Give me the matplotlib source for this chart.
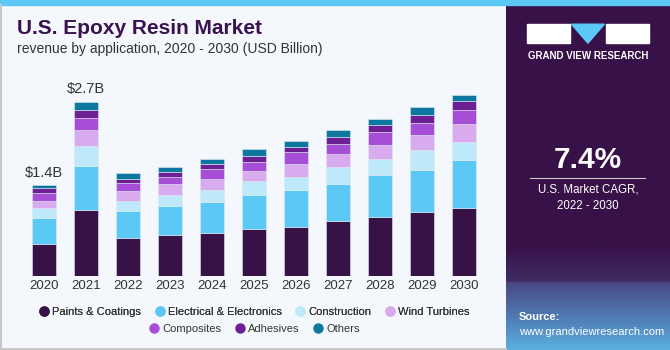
import numpy as np
import matplotlib.pyplot as plt
from matplotlib.patches import Rectangle, Polygon
from matplotlib.lines import Line2D
from matplotlib.colors import LinearSegmentedColormap

plt.rcParams["font.family"] = ["Liberation Sans", "DejaVu Sans"]

years = ["2020", "2021", "2022", "2023", "2024", "2025", "2026", "2027", "2028", "2029", "2030"]
segments = ["Paints & Coatings", "Electrical & Electronics", "Construction", "Wind Turbines",
            "Composites", "Adhesives", "Others"]

paints = [0.50, 1.02, 0.59, 0.63, 0.67, 0.73, 0.76, 0.85, 0.91, 0.98, 1.05]
electrical = [0.40, 0.67, 0.41, 0.44, 0.47, 0.51, 0.57, 0.56, 0.64, 0.65, 0.73]
construction = [0.14, 0.31, 0.16, 0.17, 0.19, 0.22, 0.20, 0.27, 0.25, 0.31, 0.28]
wind = [0.12, 0.24, 0.15, 0.17, 0.17, 0.16, 0.20, 0.19, 0.22, 0.23, 0.28]
composites = [0.12, 0.19, 0.12, 0.12, 0.14, 0.14, 0.17, 0.16, 0.19, 0.19, 0.21]
adhesives = [0.07, 0.12, 0.07, 0.07, 0.09, 0.09, 0.08, 0.11, 0.11, 0.11, 0.14]
others = [0.05, 0.13, 0.08, 0.08, 0.07, 0.10, 0.10, 0.10, 0.10, 0.13, 0.10]

colors = ["#371246", "#5BC8F5", "#BDE9FA", "#D8AAEE", "#A64FD6", "#6D2096", "#0E77A0"]
callouts = {0: "$1.4B", 1: "$2.7B"}

series = [paints, electrical, construction, wind, composites, adhesives, others]

fig = plt.figure(figsize=(6.7, 3.5), dpi=100)
fig.patch.set_facecolor("#F4F8FC")

# bars
ax = fig.add_axes([0.0276, 0.211, 0.702, 0.558])
ax.set_facecolor("none")
x = np.arange(len(years))
bottom = np.zeros(len(years))
for vals, col in zip(series, colors):
    ax.bar(x, vals, width=0.57, bottom=bottom, color=col, edgecolor="#dfe8f0", linewidth=0.4)
    bottom += np.array(vals)
for i, txt in callouts.items():
    ax.text(x[i], bottom[i] + 0.08, txt, ha="center", va="bottom", fontsize=10.5, color="#333333")
ax.set_xlim(-0.6, len(years) - 0.4)
ax.set_ylim(0, 3.0)
ax.set_xticks(x)
ax.set_xticklabels(years, fontsize=9.5, color="#333333")
ax.tick_params(axis="x", length=0, pad=3)
ax.set_yticks([])
for s in ax.spines.values():
    s.set_visible(False)

# title
fig.text(0.025, 0.92, "U.S. Epoxy Resin Market", fontsize=15, fontweight="bold",
         color="#3A1250", va="center")
fig.text(0.025, 0.86, "revenue by application, 2020 - 2030 (USD Billion)", fontsize=10,
         color="#333333", va="center")

# legend, two centred rows
handles = [Line2D([], [], marker="o", ls="", color=c, markersize=6.5) for c in colors]
leg_kw = dict(loc="center", frameon=False, fontsize=8, handletextpad=0.1, columnspacing=1.0,
              labelcolor="#333333", handlelength=1.3)
leg1 = fig.legend(handles[:4], segments[:4], bbox_to_anchor=(0.378, 0.109), ncol=4, **leg_kw)
fig.legend(handles[4:], segments[4:], bbox_to_anchor=(0.378, 0.061), ncol=3, **leg_kw)
fig.add_artist(leg1)

# right panel
pan = fig.add_axes([0.755, 0.0, 0.245, 0.985])
pan.set_xlim(0, 1)
pan.set_ylim(0, 1)
pan.axis("off")
grad = np.linspace(0, 1, 200)[:, None]
cmap = LinearSegmentedColormap.from_list(
    "p", [(0.0, "#5BAEDF"), (0.1, "#4F77B0"), (0.19, "#4A4A85"), (0.2, "#3E2C62"),
          (0.3, "#371148"), (1.0, "#371148")])
pan.imshow(grad, aspect="auto", cmap=cmap, extent=[0, 1, 0, 1], origin="lower")
# logo
pan.add_patch(Rectangle((0.13, 0.89), 0.26, 0.055, color="white"))
pan.add_patch(Polygon([[0.40, 0.945], [0.60, 0.945], [0.50, 0.89]], color="#5BC8F5"))
pan.add_patch(Rectangle((0.61, 0.89), 0.26, 0.055, color="white"))
pan.text(0.5, 0.852, "GRAND VIEW RESEARCH", ha="center", va="center", fontsize=7,
         color="white", fontweight="bold")
pan.text(0.5, 0.552, "7.4%", ha="center", va="center", fontsize=21.5, color="white",
         fontweight="bold")
pan.plot([0.15, 0.85], [0.499, 0.499], color="#cccccc", lw=0.8)
pan.text(0.5, 0.465, "U.S. Market CAGR,", ha="center", va="center", fontsize=8.3, color="white")
pan.text(0.5, 0.417, "2022 - 2030", ha="center", va="center", fontsize=8.3, color="white")
pan.text(0.08, 0.095, "Source:", ha="left", va="center", fontsize=8, color="white",
         fontweight="bold")
pan.text(0.08, 0.053, "www.grandviewresearch.com", ha="left", va="center", fontsize=8,
         color="white")

# top stripe and border
fig.add_artist(Rectangle((0, 0.985), 1, 0.015, transform=fig.transFigure, color="#5BC8F5"))
fig.add_artist(Line2D([0.001, 0.001], [0, 0.985], transform=fig.transFigure, color="#c8c8c8", lw=1.5))
fig.add_artist(Line2D([0, 0.755], [0.002, 0.002], transform=fig.transFigure, color="#c8c8c8", lw=1.5))

fig.savefig("out.png", dpi=100, facecolor=fig.get_facecolor())
